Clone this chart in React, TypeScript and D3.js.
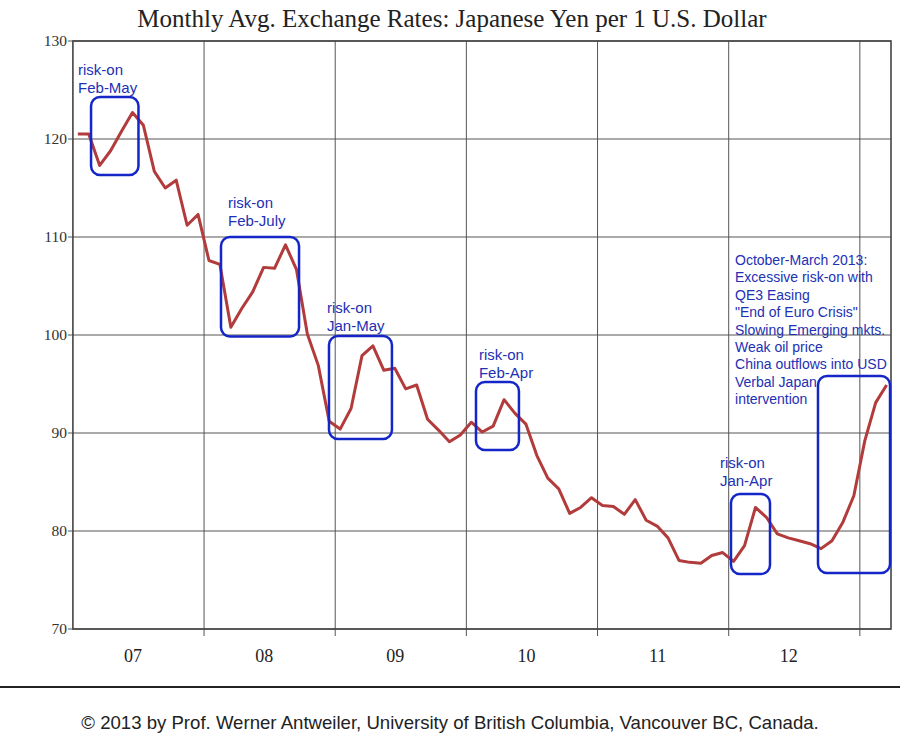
import React from "react";
import * as d3 from "d3";

// JPY per USD, monthly averages Jan 2007 – Mar 2013
const rates2007 = [120.5, 120.5, 117.3, 118.8, 120.8, 122.7, 121.4, 116.7, 115.0, 115.8, 111.2, 112.3];
const rates2008 = [107.6, 107.2, 100.8, 102.7, 104.4, 106.9, 106.8, 109.2, 106.7, 100.1, 96.9, 91.2];
const rates2009 = [90.4, 92.5, 97.9, 98.9, 96.4, 96.6, 94.5, 94.9, 91.4, 90.3, 89.1, 89.8];
const rates2010 = [91.1, 90.1, 90.7, 93.4, 92.0, 90.9, 87.7, 85.4, 84.3, 81.8, 82.4, 83.4];
const rates2011 = [82.6, 82.5, 81.7, 83.2, 81.1, 80.5, 79.3, 77.0, 76.8, 76.7, 77.5, 77.8];
const rates2012 = [76.9, 78.5, 82.4, 81.4, 79.7, 79.3, 79.0, 78.7, 78.2, 79.0, 80.9, 83.6];
const rates2013 = [89.2, 93.1, 94.9];

const yearLabels = ["07", "08", "09", "10", "11", "12"];
const yTicks = [70, 80, 90, 100, 110, 120, 130];

// annotation boxes in data units: month index range, value range
const boxMonthStart = [1.66, 13.55, 23.43, 36.88, 60.21, 68.17];
const boxMonthEnd = [6.0, 20.69, 29.19, 40.81, 63.78, 74.76];
const boxValueTop = [124.29, 110.0, 99.9, 95.2, 83.78, 95.82];
const boxValueBottom = [116.33, 99.85, 89.39, 88.27, 75.61, 75.71];

const labelLines = [
  ["risk-on", "Feb-May"],
  ["risk-on", "Feb-July"],
  ["risk-on", "Jan-May"],
  ["risk-on", "Feb-Apr"],
  ["risk-on", "Jan-Apr"],
];
const labelMonth = [0.47, 14.19, 23.25, 37.15, 59.2];
const labelValue = [126.5, 112.96, 102.24, 97.45, 86.43];

const noteLines = [
  "October-March 2013:",
  "Excessive risk-on with",
  "QE3 Easing",
  "\"End of Euro Crisis\"",
  "Slowing Emerging mkts.",
  "Weak oil price",
  "China outflows into USD",
  "Verbal Japan",
  "intervention",
];
const noteMonth = 60.58;
const noteValue = 107.14;

const rates = [...rates2007, ...rates2008, ...rates2009, ...rates2010, ...rates2011, ...rates2012, ...rates2013];

export default function App() {
  const W = 900;
  const H = 736;
  const left = 72.9;
  const right = 891;
  const top = 41;
  const bottom = 629;

  const x = d3.scaleLinear().domain([0, 74.85]).range([left, right]);
  const y = d3.scaleLinear().domain([70, 130]).range([bottom, top]);

  const line = d3
    .line<number>()
    .x((_, i) => x(i + 0.45))
    .y((d) => y(d));

  const yearBounds = d3.range(1, 7).map((k) => k * 12);

  const blueText = "#2230b4";
  const blueBox = "#1426c8";
  const serif = "'Liberation Serif', 'Times New Roman', serif";
  const sans = "'Liberation Sans', Arial, sans-serif";

  return (
    <svg
      width={W}
      height={H}
      style={{ position: "absolute", left: 0, top: 0, background: "#fff" }}
    >
      <rect x={0} y={0} width={W} height={H} fill="#fff" />
      <text x={452} y={27} textAnchor="middle" fontFamily={serif} fontSize={25} fill="#222">
        Monthly Avg. Exchange Rates: Japanese Yen per 1 U.S. Dollar
      </text>

      {/* horizontal gridlines */}
      {yTicks.map((t) => (
        <g key={"y" + t}>
          <line x1={left} x2={right} y1={y(t)} y2={y(t)} stroke="#555" strokeWidth={1} />
          <line x1={left - 5} x2={left} y1={y(t)} y2={y(t)} stroke="#555" strokeWidth={1} />
          <text
            x={left - 6}
            y={y(t) + 5}
            textAnchor="end"
            fontFamily={serif}
            fontSize={15.5}
            fill="#333"
          >
            {t}
          </text>
        </g>
      ))}

      {/* vertical gridlines at year boundaries */}
      {yearBounds.map((m) => (
        <line key={"v" + m} x1={x(m)} x2={x(m)} y1={top} y2={bottom + 7} stroke="#555" strokeWidth={1} />
      ))}

      {yearLabels.map((lab, i) => (
        <text
          key={lab}
          x={x(i * 12 + 5.5)}
          y={661.5}
          textAnchor="middle"
          fontFamily={serif}
          fontSize={18}
          fill="#222"
        >
          {lab}
        </text>
      ))}

      <rect
        x={left}
        y={top}
        width={right - left}
        height={bottom - top}
        fill="none"
        stroke="#444"
        strokeWidth={1.6}
      />

      <path d={line(rates) || ""} fill="none" stroke="#b23b3b" strokeWidth={3} strokeLinejoin="round" />

      {boxMonthStart.map((m, i) => (
        <rect
          key={"b" + i}
          x={x(m)}
          y={y(boxValueTop[i])}
          width={x(boxMonthEnd[i]) - x(m)}
          height={y(boxValueBottom[i]) - y(boxValueTop[i])}
          rx={9}
          ry={9}
          fill="none"
          stroke={blueBox}
          strokeWidth={2.5}
        />
      ))}

      {labelLines.map((lines, i) => (
        <text key={"l" + i} fontFamily={sans} fontSize={15} fill={blueText}>
          {lines.map((s, j) => (
            <tspan key={j} x={x(labelMonth[i])} y={y(labelValue[i]) + j * 18}>
              {s}
            </tspan>
          ))}
        </text>
      ))}

      <text fontFamily={sans} fontSize={14} fill={blueText}>
        {noteLines.map((s, j) => (
          <tspan key={j} x={x(noteMonth)} y={y(noteValue) + j * 17.4}>
            {s}
          </tspan>
        ))}
      </text>

      <line x1={0} x2={W} y1={687} y2={687} stroke="#222" strokeWidth={2} />
      <text x={450} y={729} textAnchor="middle" fontFamily={sans} fontSize={18.6} fill="#222">
        © 2013 by Prof. Werner Antweiler, University of British Columbia, Vancouver BC, Canada.
      </text>
    </svg>
  );
}
